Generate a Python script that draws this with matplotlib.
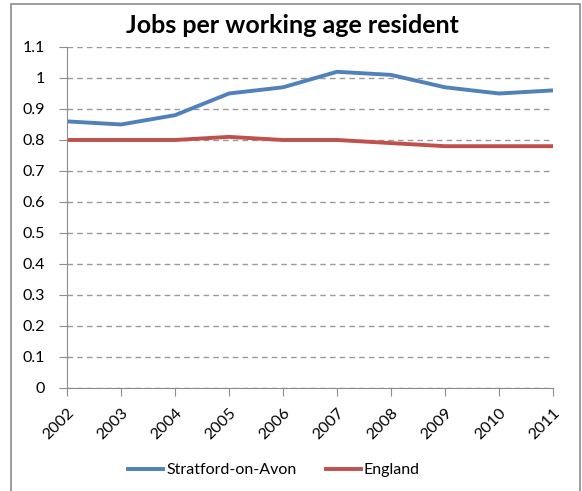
import matplotlib.pyplot as plt
from matplotlib.patches import Rectangle

years = ['2002', '2003', '2004', '2005', '2006', '2007', '2008', '2009', '2010', '2011']
stratford = [0.86, 0.85, 0.88, 0.95, 0.97, 1.02, 1.01, 0.97, 0.95, 0.96]
england = [0.80, 0.80, 0.80, 0.81, 0.80, 0.80, 0.79, 0.78, 0.78, 0.78]
yticks = [0, 0.1, 0.2, 0.3, 0.4, 0.5, 0.6, 0.7, 0.8, 0.9, 1, 1.1]
ytick_labels = ['0', '0.1', '0.2', '0.3', '0.4', '0.5', '0.6', '0.7', '0.8', '0.9', '1', '1.1']

plt.rcParams['font.family'] = ['Lato', 'DejaVu Sans']

fig = plt.figure(figsize=(5.82, 4.91), dpi=100)
ax = fig.add_axes([0.1151, 0.2098, 0.8351, 0.6945])

# outer chart border (bottom edge runs off the image)
fig.patches.append(Rectangle((11 / 582, -0.05), (580 - 11) / 582, 1.05 - 4 / 491,
                             transform=fig.transFigure, fill=False,
                             edgecolor='#8c8c8c', linewidth=1.2))

x = list(range(len(years)))
ax.plot(x, stratford, '-', color='#4F81BD', linewidth=2.8, label='Stratford-on-Avon')
ax.plot(x, england, '-', color='#C0504D', linewidth=2.8, label='England')

ax.set_xlim(0, len(years) - 1)
ax.set_ylim(0, 1.1)
ax.set_yticks(yticks)
ax.set_yticklabels(ytick_labels, fontsize=11.5)
ax.set_xticks(x)
ax.set_xticklabels(years, fontsize=11.5, rotation=45, ha='right', rotation_mode='anchor')

ax.grid(True, axis='y', linestyle=(0, (4, 3)), color='#999999', linewidth=1)
ax.set_axisbelow(True)
for side in ['top', 'right']:
    ax.spines[side].set_visible(False)
for side in ['left', 'bottom']:
    ax.spines[side].set_color('#8c8c8c')
ax.tick_params(axis='y', direction='out', length=6, color='#8c8c8c', pad=10)
ax.tick_params(axis='x', direction='out', length=6, color='#8c8c8c', pad=7)

fig.text(0.502, 0.948, 'Jobs per working age resident', ha='center', va='center',
         fontsize=18, fontweight='bold')

fig.legend(loc='center', bbox_to_anchor=(274 / 582, 1 - 470 / 491), ncol=2,
           frameon=False, fontsize=11.5, handlelength=2.2, columnspacing=1.8,
           handletextpad=0.2)

fig.savefig('out.png', dpi=100)
